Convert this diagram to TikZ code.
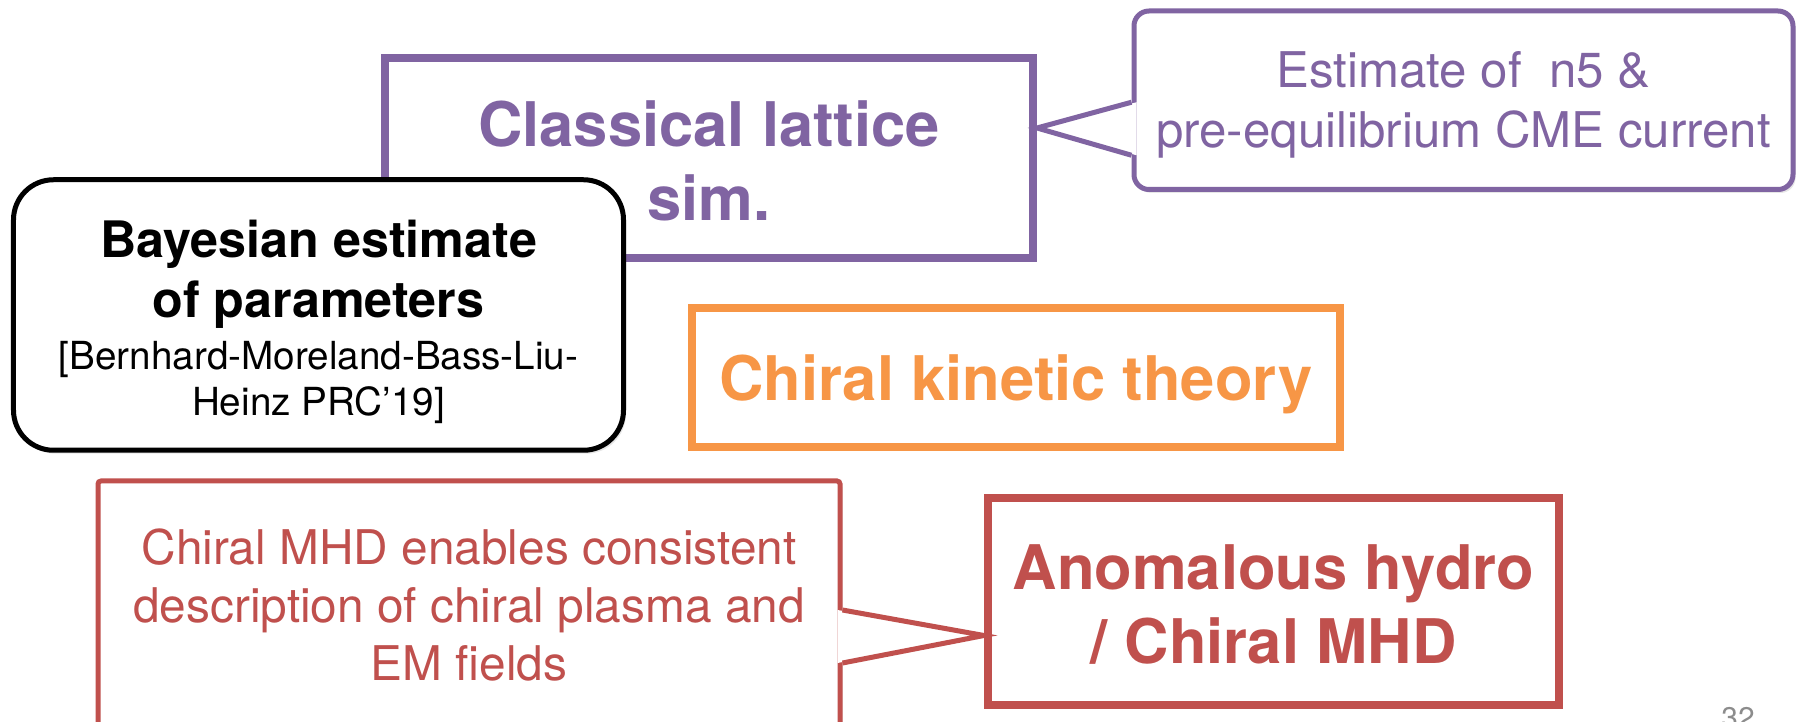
\documentclass[tikz,border=0pt]{standalone}
\usepackage{fontspec}
\setmainfont{TeX Gyre Heros}
\usetikzlibrary{shadows}
\definecolor{latticepurple}{HTML}{8064A2}
\definecolor{kineticorange}{HTML}{F79646}
\definecolor{hydrored}{HTML}{C0504D}
\definecolor{pagegray}{HTML}{8C8C8C}

\begin{document}
\begin{tikzpicture}[
    bigbox/.style={draw=#1, text=#1, line width=0.08cm, fill=white, align=center, inner sep=0pt,
        font=\fontsize{17.5}{21}\selectfont\bfseries},
    notebox/.style={draw=#1, text=#1, line width=0.05cm, fill=white, align=center, inner sep=0pt,
        font=\fontsize{14}{17}\selectfont,
        drop shadow={shadow xshift=0.025cm, shadow yshift=-0.035cm, opacity=0.2}},
    pointer/.style={line width=0.05cm, line join=miter}
]
    \useasboundingbox (0,0) rectangle (17.97,-7.22);
    \clip (0,0) rectangle (17.97,-7.22);

    \node[bigbox=latticepurple, text height=35.6pt, minimum width=6.48cm, minimum height=2cm]
        (lattice) at (7.09,-1.58) {Classical lattice\\sim.};
    \node[draw=black, line width=0.05cm, rounded corners=0.4cm, fill=white, align=center,
        inner sep=0pt, text height=59.5pt, minimum width=6.1cm, minimum height=2.705cm,
        font=\fontsize{14.3}{17}\selectfont\bfseries,
        drop shadow={shadow xshift=0.025cm, shadow yshift=-0.035cm, opacity=0.2}] (bayes)
        at (3.185,-3.15)
        {Bayesian estimate\\of parameters\\[-2pt]
        {\fontsize{11}{12.5}\selectfont\mdseries [Bernhard-Moreland-Bass-Liu-}\\[-4pt]
        {\fontsize{11}{12.5}\selectfont\mdseries Heinz PRC’19]}};

    \node[notebox=latticepurple, rounded corners=0.15cm, text height=30pt, minimum width=6.59cm,
        minimum height=1.785cm] (n5note) at (14.635,-1.0025)
        {Estimate of~ n5 \&\\pre-equilibrium CME current};
    \fill[white] ([xshift=0.05cm,yshift=-0.02cm]n5note.west) -- ([yshift=0.3cm]lattice.east)
        -- ([xshift=0.05cm,yshift=-0.55cm]n5note.west) -- cycle;
    \draw[pointer, latticepurple] ([yshift=-0.02cm]n5note.west) -- ([yshift=0.3cm]lattice.east)
        -- ([yshift=-0.55cm]n5note.west);

    \node[bigbox=kineticorange, text depth=0pt, minimum width=6.48cm, minimum height=1.39cm]
        (kinetic) at (10.16,-3.775) {Chiral kinetic theory};

    \node[notebox=hydrored, rounded corners=0.03cm, minimum width=7.42cm, minimum height=2.476cm,
        font=\fontsize{13.6}{16.5}\selectfont] (mhdnote) at (4.69,-6.048)
        {Chiral MHD enables consistent\\description of chiral plasma and\\EM fields};
    \node[bigbox=hydrored, text height=35.6pt, minimum width=5.71cm, minimum height=2.07cm]
        (anomalous) at (12.735,-6.015) {Anomalous hydro\\/ Chiral MHD};
    \fill[white] ([xshift=-0.05cm,yshift=-0.052cm]mhdnote.east) -- ([yshift=-0.34cm]anomalous.west)
        -- ([xshift=-0.05cm,yshift=-0.582cm]mhdnote.east) -- cycle;
    \draw[pointer, hydrored] ([yshift=-0.052cm]mhdnote.east) -- ([yshift=-0.34cm]anomalous.west)
        -- ([yshift=-0.582cm]mhdnote.east);

    \node[text=pagegray, font=\fontsize{8.5}{10}\selectfont, anchor=north, inner sep=0pt]
        (pagenum) at (17.38,-7.07) {32};
\end{tikzpicture}
\end{document}
